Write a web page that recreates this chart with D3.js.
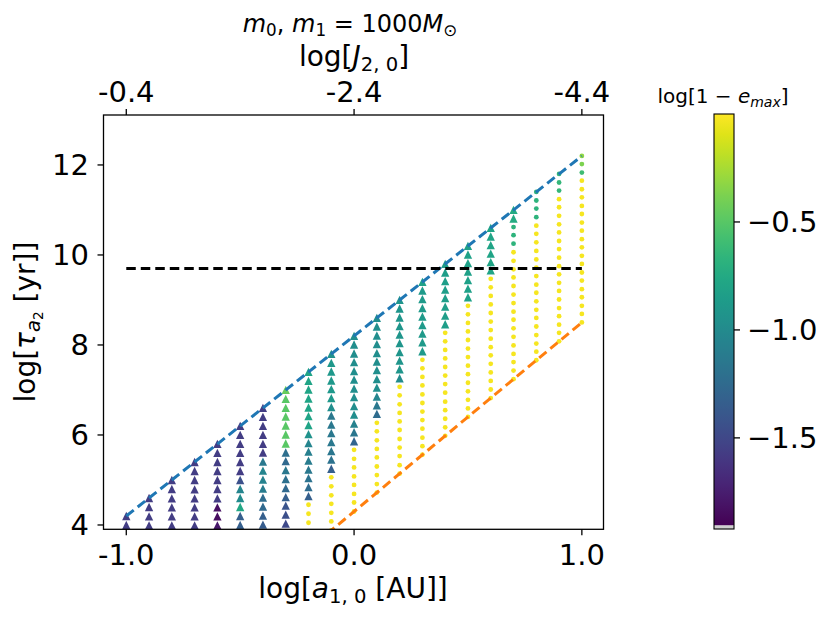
<!DOCTYPE html>
<html>
<head>
<meta charset="utf-8">
<script src="https://cdn.jsdelivr.net/npm/d3@7"></script>
<style>
  body { margin: 0; background: #fff; }
  text { font-family: "DejaVu Sans", sans-serif; fill: #000; }
</style>
</head>
<body>
<div id="chart"></div>
<script>
// grid columns, log[a_1,0 / AU]
const a10 = [-1.0, -0.9, -0.8, -0.7, -0.6, -0.5, -0.4, -0.3, -0.2, -0.1, 0.0,
             0.1, 0.2, 0.3, 0.4, 0.5, 0.6, 0.7, 0.8, 0.9, 1.0];

// how many points (from the top of each column) are drawn as triangles
const nTriangles = [2, 4, 6, 8, 10, 12, 14, 16, 15, 14, 13, 12, 10, 9, 8, 7, 6, 2, 0, 0, 0];

// log[tau_a2 / yr] of the visible points in each column, top to bottom
const tauCols = [
  [4.20, 4.00],
  [4.60, 4.40, 4.19, 3.99],
  [5.00, 4.80, 4.59, 4.39, 4.19, 3.99],
  [5.40, 5.20, 5.00, 4.79, 4.59, 4.39, 4.19, 3.99],
  [5.80, 5.60, 5.40, 5.20, 5.00, 4.80, 4.59, 4.39, 4.19, 3.99],
  [6.20, 6.00, 5.80, 5.60, 5.40, 5.20, 5.00, 4.80, 4.60, 4.40, 4.20, 4.00],
  [6.60, 6.40, 6.20, 6.00, 5.80, 5.61, 5.41, 5.21, 5.01, 4.81, 4.61, 4.41, 4.21, 4.01],
  [7.00, 6.80, 6.60, 6.41, 6.21, 6.01, 5.81, 5.61, 5.42, 5.22, 5.02, 4.82, 4.62, 4.43, 4.23, 4.03],
  [7.40, 7.20, 7.01, 6.81, 6.61, 6.42, 6.22, 6.02, 5.82, 5.63, 5.43, 5.23, 5.04, 4.84, 4.64, 4.45, 4.25, 4.05],
  [7.80, 7.60, 7.41, 7.21, 7.02, 6.82, 6.62, 6.43, 6.23, 6.04, 5.84, 5.64, 5.45, 5.25, 5.06, 4.86, 4.66, 4.47, 4.27, 4.08, 3.88],
  [8.20, 8.01, 7.81, 7.62, 7.42, 7.23, 7.03, 6.84, 6.64, 6.45, 6.25, 6.06, 5.86, 5.67, 5.47, 5.28, 5.08, 4.89, 4.69, 4.50, 4.30],
  [8.60, 8.41, 8.21, 8.02, 7.82, 7.63, 7.44, 7.24, 7.05, 6.85, 6.66, 6.47, 6.27, 6.08, 5.88, 5.69, 5.50, 5.30, 5.11, 4.91, 4.72],
  [9.00, 8.81, 8.61, 8.42, 8.23, 8.04, 7.84, 7.65, 7.46, 7.26, 7.07, 6.88, 6.68, 6.49, 6.30, 6.11, 5.91, 5.72, 5.53, 5.33, 5.14],
  [9.40, 9.21, 9.02, 8.82, 8.63, 8.44, 8.25, 8.06, 7.86, 7.67, 7.48, 7.29, 7.10, 6.90, 6.71, 6.52, 6.33, 6.14, 5.94, 5.75, 5.56],
  [9.80, 9.61, 9.42, 9.23, 9.04, 8.85, 8.65, 8.46, 8.27, 8.08, 7.89, 7.70, 7.51, 7.32, 7.13, 6.94, 6.74, 6.55, 6.36, 6.17, 5.98],
  [10.20, 10.01, 9.82, 9.63, 9.44, 9.25, 9.06, 8.87, 8.68, 8.49, 8.30, 8.11, 7.92, 7.73, 7.54, 7.35, 7.16, 6.97, 6.78, 6.59, 6.40],
  [10.60, 10.41, 10.22, 10.03, 9.84, 9.66, 9.47, 9.28, 9.09, 8.90, 8.71, 8.52, 8.33, 8.14, 7.95, 7.77, 7.58, 7.39, 7.20, 7.01, 6.82],
  [11.00, 10.81, 10.62, 10.44, 10.25, 10.06, 9.87, 9.68, 9.50, 9.31, 9.12, 8.93, 8.74, 8.56, 8.37, 8.18, 7.99, 7.80, 7.62, 7.43, 7.24],
  [11.40, 11.21, 11.03, 10.84, 10.65, 10.47, 10.28, 10.09, 9.90, 9.72, 9.53, 9.34, 9.16, 8.97, 8.78, 8.60, 8.41, 8.22, 8.03, 7.85, 7.66],
  [11.80, 11.61, 11.43, 11.24, 11.06, 10.87, 10.68, 10.50, 10.31, 10.13, 9.94, 9.75, 9.57, 9.38, 9.20, 9.01, 8.82, 8.64, 8.45, 8.27, 8.08],
  [12.20, 12.02, 11.83, 11.65, 11.46, 11.28, 11.09, 10.91, 10.72, 10.54, 10.35, 10.17, 9.98, 9.80, 9.61, 9.43, 9.24, 9.06, 8.87, 8.69, 8.50]
];

// log[1 - e_max] of the same points (colour)
const emaxCols = [
  [-1.58, -1.58],
  [-1.58, -1.58, -1.58, -1.58],
  [-1.58, -1.58, -1.58, -1.58, -1.58, -1.58],
  [-1.58, -1.58, -1.58, -1.58, -1.58, -1.58, -1.58, -1.58],
  [-1.58, -1.58, -1.58, -1.58, -1.58, -1.58, -1.58, -1.84, -1.86, -1.80],
  [-1.58, -1.58, -1.58, -1.58, -1.58, -1.58, -1.45, -1.05, -1.00, -0.78, -1.35, -1.35],
  [-1.58, -1.58, -1.58, -1.58, -1.58, -1.58, -1.15, -1.05, -1.08, -1.12, -1.25, -1.27, -1.35, -1.37],
  [-0.45, -0.50, -0.50, -0.50, -0.50, -0.50, -0.50, -1.23, -1.27, -1.15, -1.22, -1.27, -1.35, -1.42, -1.46, -1.50],
  [-0.80, -0.80, -0.80, -0.80, -0.80, -0.80, -0.80, -0.95, -1.05, -1.10, -1.12, -1.15, -1.20, -1.25, -1.35, -0.03, -0.03, -0.03],
  [-0.95, -0.90, -0.90, -0.90, -0.90, -0.90, -0.98, -1.15, -1.15, -1.15, -1.15, -1.17, -1.20, -1.35, -0.03, -0.03, -0.03, -0.03, -0.03, -0.03, -0.03],
  [-0.98, -0.98, -0.98, -0.98, -0.98, -0.98, -0.98, -0.98, -0.98, -0.98, -1.08, -1.17, -1.30, -0.03, -0.03, -0.03, -0.03, -0.03, -0.03, -0.03, -0.03],
  [-0.98, -0.98, -0.98, -0.98, -0.98, -0.98, -0.98, -0.98, -0.98, -1.05, -1.15, -1.25, -0.03, -0.03, -0.03, -0.03, -0.03, -0.03, -0.03, -0.03, -0.03],
  [-0.92, -0.92, -0.92, -0.92, -0.92, -0.92, -0.92, -0.92, -0.92, -1.00, -0.03, -0.03, -0.03, -0.03, -0.03, -0.03, -0.03, -0.03, -0.03, -0.03, -0.03],
  [-0.82, -0.88, -0.88, -0.88, -0.88, -0.88, -0.88, -0.88, -0.88, -0.03, -0.03, -0.03, -0.03, -0.03, -0.03, -0.03, -0.03, -0.03, -0.03, -0.03, -0.03],
  [-0.85, -0.85, -0.85, -0.85, -0.85, -0.85, -0.85, -0.85, -0.03, -0.03, -0.03, -0.03, -0.03, -0.03, -0.03, -0.03, -0.03, -0.03, -0.03, -0.03, -0.03],
  [-0.83, -0.83, -0.83, -0.83, -0.83, -0.83, -0.83, -0.03, -0.03, -0.03, -0.03, -0.03, -0.03, -0.03, -0.03, -0.03, -0.03, -0.03, -0.03, -0.03, -0.03],
  [-0.80, -0.80, -0.80, -0.80, -0.80, -0.80, -0.03, -0.03, -0.03, -0.03, -0.03, -0.03, -0.03, -0.03, -0.03, -0.03, -0.03, -0.03, -0.03, -0.03, -0.03],
  [-0.75, -0.75, -0.68, -0.68, -0.68, -0.03, -0.03, -0.03, -0.03, -0.03, -0.03, -0.03, -0.03, -0.03, -0.03, -0.03, -0.03, -0.03, -0.03, -0.03, -0.03],
  [-0.68, -0.68, -0.68, -0.68, -0.03, -0.03, -0.03, -0.03, -0.03, -0.03, -0.03, -0.03, -0.03, -0.03, -0.03, -0.03, -0.03, -0.03, -0.03, -0.03, -0.03],
  [-0.65, -0.65, -0.65, -0.03, -0.03, -0.03, -0.03, -0.03, -0.03, -0.03, -0.03, -0.03, -0.03, -0.03, -0.03, -0.03, -0.03, -0.03, -0.03, -0.03, -0.03],
  [-0.32, -0.38, -0.60, -0.03, -0.03, -0.03, -0.03, -0.03, -0.03, -0.03, -0.03, -0.03, -0.03, -0.03, -0.03, -0.03, -0.03, -0.03, -0.03, -0.03, -0.03]
];

// reference lines (end points)
const lineX = [-1.0, 1.0];
const upperY = [4.2, 12.2];   // blue
const lowerY = [0.1, 8.5];    // orange
const flatY = [9.7, 9.7];     // black

const xTicks = [-1.0, 0.0, 1.0];
const xTickLabels = ["-1.0", "0.0", "1.0"];
const topTickLabels = ["-0.4", "-2.4", "-4.4"];
const yTicks = [4, 6, 8, 10, 12];
const cbTicks = [-0.5, -1.0, -1.5];
const cbTickLabels = ["\u22120.5", "\u22121.0", "\u22121.5"];
const cbMin = -1.922, cbMax = 0;

const width = 831, height = 622;
const box = { left: 103.5, right: 603.5, top: 115, bottom: 529.3 };
const cbox = { left: 714, right: 734, top: 114, bottom: 529 };

const svg = d3.select("#chart").append("svg")
    .attr("width", width)
    .attr("height", height);

const x = d3.scaleLinear().domain([-1.1, 1.095]).range([box.left, box.right]);
const y = d3.scaleLinear().domain([3.904, 13.11]).range([box.bottom, box.top]);
const color = d3.scaleSequential(d3.interpolateViridis).domain([cbMin, cbMax]);

svg.append("clipPath").attr("id", "plotclip")
  .append("rect")
    .attr("x", box.left).attr("y", box.top)
    .attr("width", box.right - box.left).attr("height", box.bottom - box.top);

// small mathtext-like helper: parts with italic and sub levels
function mathText(parent, parts, size) {
  const t = parent.append("text").style("font-size", size + "px");
  let off = 0;
  parts.forEach(p => {
    const lvl = p.sub || 0;
    const target = lvl === 0 ? 0 : (lvl === 1 ? 0.18 * size : 0.30 * size);
    t.append("tspan")
      .text(p.t)
      .style("font-size", (size * Math.pow(0.7, lvl)) + "px")
      .style("font-style", p.i ? "italic" : "normal")
      .attr("dy", target - off);
    off = target;
  });
  return t;
}

// points
const points = [];
a10.forEach((a, c) => {
  tauCols[c].forEach((tau, k) => {
    points.push({ a: a, tau: tau, v: emaxCols[c][k], tri: k < nTriangles[c] });
  });
});

const tw = 8.3; // triangle size
const triPath = `M0,${-tw / 2}L${tw / 2},${tw / 2}L${-tw / 2},${tw / 2}Z`;

const marks = svg.append("g").attr("clip-path", "url(#plotclip)");

marks.selectAll("circle")
  .data(points.filter(d => !d.tri))
  .join("circle")
    .attr("cx", d => x(d.a))
    .attr("cy", d => y(d.tau))
    .attr("r", 2.4)
    .attr("fill", d => color(d.v));

marks.selectAll("path.tri")
  .data(points.filter(d => d.tri))
  .join("path")
    .attr("class", "tri")
    .attr("d", triPath)
    .attr("transform", d => `translate(${x(d.a)},${y(d.tau)})`)
    .attr("fill", d => color(d.v));

// dashed reference lines on top of the markers
const line = d3.line().x(d => x(d[0])).y(d => y(d[1]));
[[upperY, "#1f77b4"], [lowerY, "#ff7f0e"], [flatY, "#000"]].forEach(([ys, c]) => {
  marks.append("path")
    .attr("d", line(lineX.map((v, i) => [v, ys[i]])))
    .attr("fill", "none")
    .attr("stroke", c)
    .attr("stroke-width", 3)
    .attr("stroke-dasharray", "9.5,5");
});

// frame
svg.append("rect")
    .attr("x", box.left).attr("y", box.top)
    .attr("width", box.right - box.left).attr("height", box.bottom - box.top)
    .attr("fill", "none").attr("stroke", "#000").attr("stroke-width", 1.3);

// bottom axis
const bottom = svg.append("g");
xTicks.forEach((t, i) => {
  bottom.append("line")
    .attr("x1", x(t)).attr("x2", x(t))
    .attr("y1", box.bottom).attr("y2", box.bottom + 6)
    .attr("stroke", "#000").attr("stroke-width", 1.3);
  bottom.append("text")
    .attr("x", x(t)).attr("y", 565)
    .attr("text-anchor", "middle")
    .style("font-size", "29px")
    .text(xTickLabels[i]);
});

// top axis (same tick positions, J_2,0 labels)
const topAx = svg.append("g");
xTicks.forEach((t, i) => {
  topAx.append("line")
    .attr("x1", x(t)).attr("x2", x(t))
    .attr("y1", box.top).attr("y2", box.top - 6)
    .attr("stroke", "#000").attr("stroke-width", 1.3);
  topAx.append("text")
    .attr("x", x(t)).attr("y", 102)
    .attr("text-anchor", "middle")
    .style("font-size", "29px")
    .text(topTickLabels[i]);
});

// left axis
const left = svg.append("g");
yTicks.forEach(t => {
  left.append("line")
    .attr("x1", box.left).attr("x2", box.left - 6)
    .attr("y1", y(t)).attr("y2", y(t))
    .attr("stroke", "#000").attr("stroke-width", 1.3);
  left.append("text")
    .attr("x", 89).attr("y", y(t) + 10.5)
    .attr("text-anchor", "end")
    .style("font-size", "29px")
    .text(t);
});

// axis labels and title
mathText(svg, [{ t: "log[" }, { t: "a", i: true }, { t: "1, 0", sub: 1 }, { t: " [AU]]" }], 28)
  .attr("x", 353).attr("y", 598).attr("text-anchor", "middle");

mathText(svg, [{ t: "log[" }, { t: "J", i: true }, { t: "2, 0", sub: 1 }, { t: "]" }], 28)
  .attr("x", 354).attr("y", 66).attr("text-anchor", "middle");

mathText(svg, [{ t: "m", i: true }, { t: "0", sub: 1 }, { t: ", " }, { t: "m", i: true }, { t: "1", sub: 1 },
               { t: " = 1000" }, { t: "M", i: true }, { t: "\u2299", sub: 1 }], 24)
  .attr("x", 350).attr("y", 32).attr("text-anchor", "middle");

mathText(svg, [{ t: "log[" }, { t: "\u03c4", i: true }, { t: "a", i: true, sub: 1 }, { t: "2", sub: 2 }, { t: " [yr]]" }], 28)
  .attr("text-anchor", "middle")
  .attr("transform", "translate(35,322) rotate(-90)");

// colorbar
const defs = svg.append("defs");
const grad = defs.append("linearGradient")
    .attr("id", "viridis")
    .attr("x1", 0).attr("y1", 1).attr("x2", 0).attr("y2", 0);
d3.range(0, 1.0001, 0.05).forEach(s => {
  grad.append("stop").attr("offset", s).attr("stop-color", d3.interpolateViridis(s));
});

const cy = d3.scaleLinear().domain([cbMin, cbMax]).range([cbox.bottom, cbox.top]);

svg.append("rect")
    .attr("x", cbox.left).attr("y", cbox.top)
    .attr("width", cbox.right - cbox.left).attr("height", cbox.bottom - 3.5 - cbox.top)
    .attr("fill", "url(#viridis)");
svg.append("rect")
    .attr("x", cbox.left).attr("y", cbox.bottom - 3.5)
    .attr("width", cbox.right - cbox.left).attr("height", 3.5)
    .attr("fill", "#cfcfcf");
svg.append("rect")
    .attr("x", cbox.left).attr("y", cbox.top)
    .attr("width", cbox.right - cbox.left).attr("height", cbox.bottom - cbox.top)
    .attr("fill", "none").attr("stroke", "#000").attr("stroke-width", 1.1);

cbTicks.forEach((t, i) => {
  svg.append("line")
    .attr("x1", cbox.right).attr("x2", cbox.right + 6)
    .attr("y1", cy(t)).attr("y2", cy(t))
    .attr("stroke", "#000").attr("stroke-width", 1.3);
  svg.append("text")
    .attr("x", 747).attr("y", cy(t) + 10.5)
    .style("font-size", "29px")
    .text(cbTickLabels[i]);
});

mathText(svg, [{ t: "log[1 \u2212 " }, { t: "e", i: true }, { t: "max", i: true, sub: 1 }, { t: "]" }], 20)
  .attr("x", 723).attr("y", 103).attr("text-anchor", "middle");
</script>
</body>
</html>
